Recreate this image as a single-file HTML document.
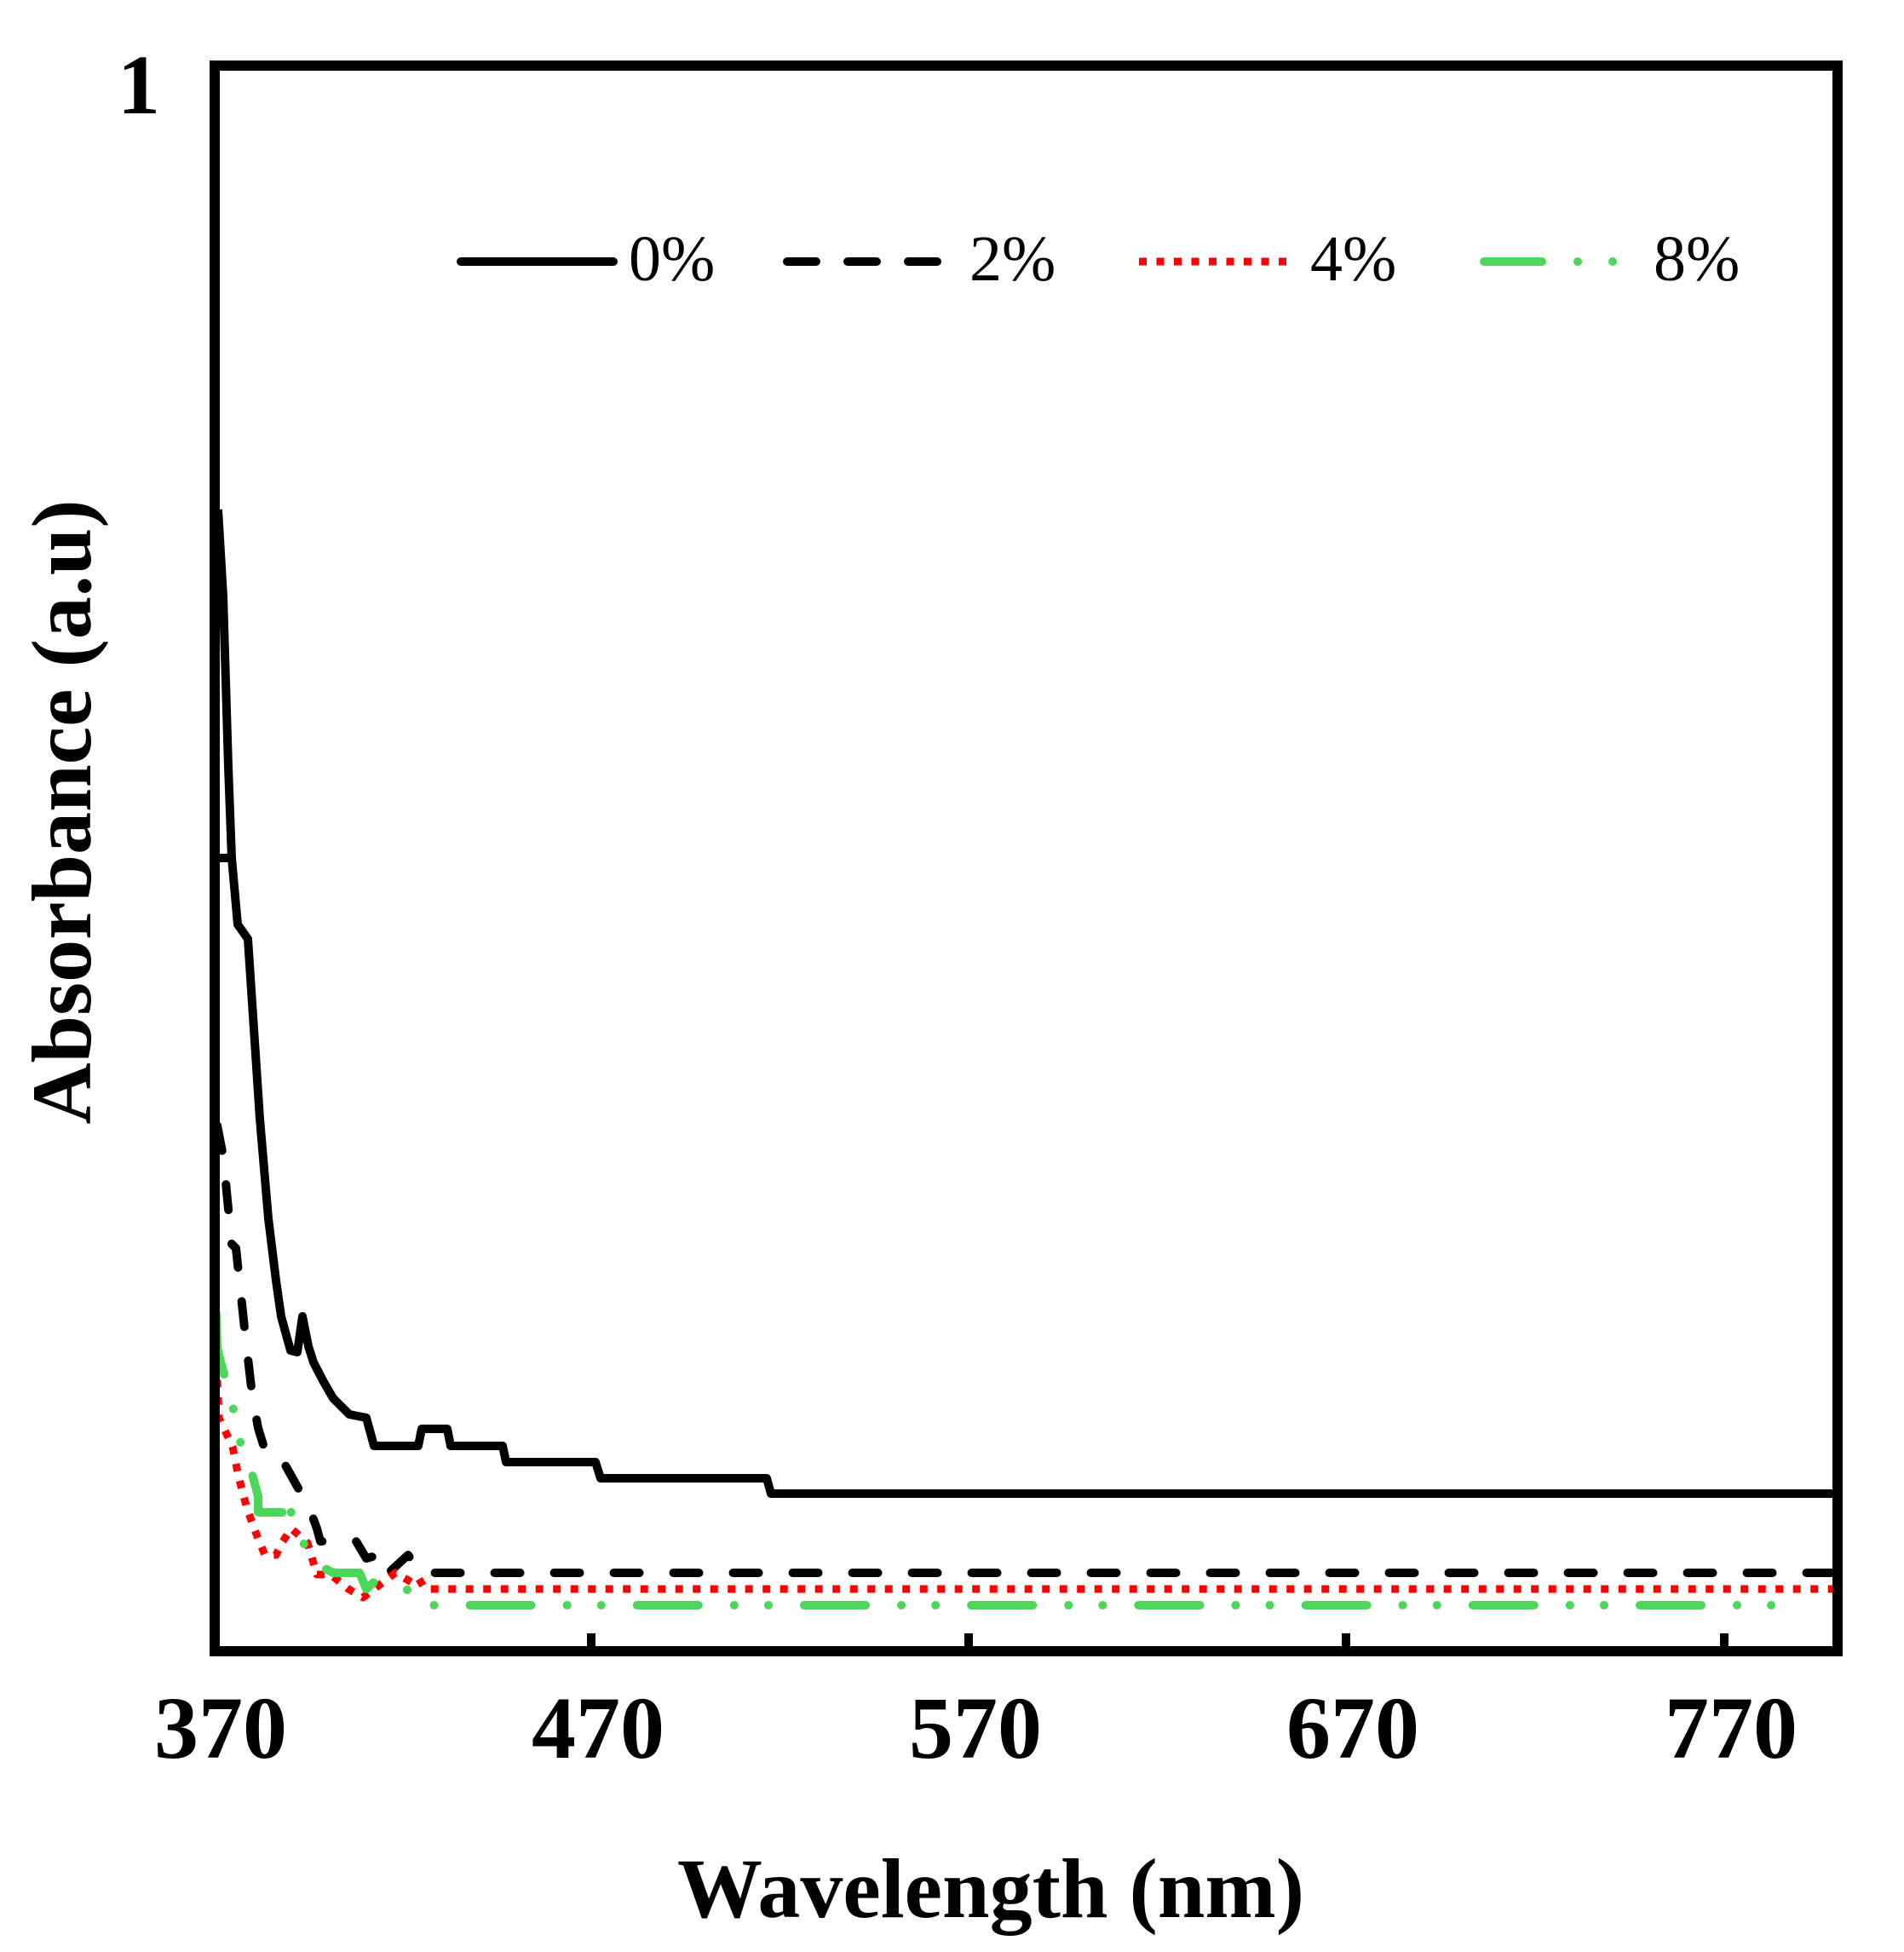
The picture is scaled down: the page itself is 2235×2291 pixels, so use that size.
<!DOCTYPE html>
<html><head><meta charset="utf-8"><style>html,body{margin:0;padding:0;background:#fff}svg{display:block}</style></head>
<body>
<svg width="2235" height="2291" viewBox="0 0 2235 2291" xmlns="http://www.w3.org/2000/svg" font-family="'Liberation Serif', serif">
<rect width="2235" height="2291" fill="#fff"/>
<g fill="none" stroke-linejoin="round">
<path stroke="#000" stroke-width="10" d="M256,598 L262,700 L268,900 L272,1007 L279,1085 L291,1102 L305,1313 L315,1430 L324,1503 L330,1545 L341,1585 L349,1587 L355,1545 L362,1580 L368,1599 L380,1622 L391,1641 L410,1660 L430,1664 L439,1697 L491,1697 L495,1677 L525,1677 L529,1697 L590,1697 L594,1716 L699,1716 L705,1735 L900,1735 L905,1753 L2155,1753"/>
<path stroke="#000" stroke-width="10" d="M256,1007 L272,1007"/>
<path stroke="#000" stroke-width="10" stroke-dasharray="30 40" stroke-linecap="round" d="M255,1321 L262,1357 L272,1460 L277,1465 L288,1568 L296,1637 L303,1676 L311,1702 L326,1718 L334,1718 L353,1752 L365,1775 L372,1794 L376,1809 L418,1809 L430,1829 L445,1825 L454,1848 L479,1825 L493,1846 L2150,1846"/>
<path stroke="#ff0000" stroke-width="9" stroke-dasharray="9 11.5" d="M254,1599 L257,1664 L273,1698 L280,1733 L290,1771 L303,1806 L311,1825 L324,1825 L332,1809 L342,1794 L361,1811 L372,1848 L388,1848 L409,1865 L426,1875 L464,1846 L483,1857 L491,1852 L499,1865 L2160,1865"/>
<path stroke="#4cd65a" stroke-width="10" stroke-dasharray="72 42 0.1 40 0.1 42" stroke-linecap="round" d="M254,1542 L255,1580 L257,1591 L273,1649 L280,1687 L294,1723 L303,1756 L303,1775 L334,1775 L334,1756 L351,1798 L365,1832 L391,1846 L422,1846 L430,1865 L441,1855 L495,1871 L502,1884 L2100,1884"/>
</g>
<rect x="252" y="77" width="1905" height="1861" fill="none" stroke="#000" stroke-width="12"/>
<g stroke="#000" stroke-width="10">
<line x1="694" y1="1932" x2="694" y2="1917"/>
<line x1="1137" y1="1932" x2="1137" y2="1917"/>
<line x1="1580" y1="1932" x2="1580" y2="1917"/>
<line x1="2024" y1="1932" x2="2024" y2="1917"/>
</g>
<g font-weight="bold" font-size="104" text-anchor="middle" fill="#000">
<text x="259" y="2063">370</text>
<text x="702" y="2063">470</text>
<text x="1145" y="2063">570</text>
<text x="1588" y="2063">670</text>
<text x="2032" y="2063">770</text>
<text x="163" y="133" font-size="100">1</text>
<text x="1163" y="2250" font-size="100">Wavelength (nm)</text>
<text transform="translate(106,953) rotate(-90)" font-size="100">Absorbance (a.u)</text>
</g>
<g fill="none">
<line x1="541" y1="307" x2="720" y2="307" stroke="#000" stroke-width="10" stroke-linecap="round"/>
<path d="M920,307 H1096" stroke="#000" stroke-width="10" stroke-dasharray="34 37" stroke-linecap="round" transform="translate(4,0)"/>
<line x1="1337" y1="307" x2="1510" y2="307" stroke="#ff0000" stroke-width="9" stroke-dasharray="9 11.5"/>
<line x1="1742" y1="307" x2="1810" y2="307" stroke="#4cd65a" stroke-width="10" stroke-linecap="round"/>
<line x1="1852" y1="307" x2="1852.1" y2="307" stroke="#4cd65a" stroke-width="10" stroke-linecap="round"/>
<line x1="1893" y1="307" x2="1893.1" y2="307" stroke="#4cd65a" stroke-width="10" stroke-linecap="round"/>
</g>
<g font-size="76" fill="#000">
<text x="738" y="329">0%</text>
<text x="1138" y="329">2%</text>
<text x="1538" y="329">4%</text>
<text x="1941" y="329">8%</text>
</g>
</svg>
</body></html>
